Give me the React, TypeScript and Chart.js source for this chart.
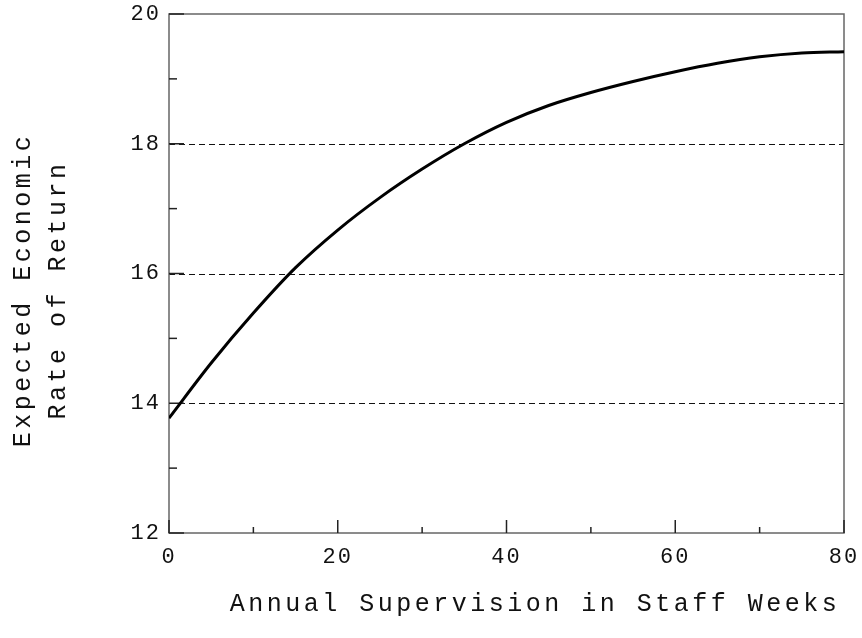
import React, { useEffect, useRef } from "react";
import { Chart, registerables } from "chart.js";

Chart.register(...registerables);

const xValues = [0, 5, 10, 15, 20, 25, 30, 35, 40, 45, 50, 55, 60, 65, 70, 75, 80];
const returnValues = [13.77, 14.62, 15.39, 16.09, 16.67, 17.17, 17.61, 18.0, 18.33, 18.59, 18.79, 18.96, 19.11, 19.24, 19.34, 19.4, 19.42];
const xTickValues = [0, 20, 40, 60, 80];
const yTickValues = [12, 14, 16, 18, 20];
const dashedValues = [14, 16, 18];
const xTitle = "Annual Supervision in Staff Weeks";
const yTitleLines = ["Expected Economic", "Rate of Return"];

const FONT = "'Liberation Mono', 'Courier New', monospace";

const framePlugin = {
  id: "framePlugin",
  beforeDraw(chart: any) {
    chart.ctx.letterSpacing = "2px";
  },
  beforeDatasetsDraw(chart: any) {
    const ctx = chart.ctx;
    const { left, right, top, bottom } = chart.chartArea;
    const xs = chart.scales.x;
    const ys = chart.scales.y;
    ctx.save();
    ctx.strokeStyle = "#111";
    ctx.lineWidth = 1;
    ctx.setLineDash([6, 4]);
    dashedValues.forEach((v) => {
      const y = Math.round(ys.getPixelForValue(v)) + 0.5;
      ctx.beginPath();
      ctx.moveTo(left, y);
      ctx.lineTo(right, y);
      ctx.stroke();
    });
    ctx.setLineDash([]);
    ctx.strokeStyle = "#666";
    ctx.lineWidth = 1.5;
    ctx.strokeRect(left, top, right - left, bottom - top);
    ctx.strokeStyle = "#222";
    ctx.lineWidth = 1.5;
    for (let v = ys.min; v <= ys.max; v += 1) {
      const y = ys.getPixelForValue(v);
      const len = v % 2 === 0 ? 15 : 8;
      ctx.beginPath();
      ctx.moveTo(left, y);
      ctx.lineTo(left + len, y);
      ctx.stroke();
    }
    for (let v = xs.min; v <= xs.max; v += 10) {
      const x = xs.getPixelForValue(v);
      const len = v % 20 === 0 ? 13 : 6;
      ctx.beginPath();
      ctx.moveTo(x, bottom);
      ctx.lineTo(x, bottom - len);
      ctx.stroke();
    }
    ctx.restore();
  },
  afterDraw(chart: any) {
    const ctx = chart.ctx;
    ctx.save();
    ctx.fillStyle = "#111";
    ctx.font = `25px ${FONT}`;
    ctx.letterSpacing = "3.5px";
    ctx.textAlign = "center";
    ctx.textBaseline = "middle";
    ctx.fillText(xTitle, 535, 604);
    ctx.translate(0, 290);
    ctx.rotate(-Math.PI / 2);
    ctx.fillText(yTitleLines[0], 0, 23);
    ctx.fillText(yTitleLines[1], 0, 58);
    ctx.restore();
  },
};

export default function App() {
  const ref = useRef<HTMLCanvasElement>(null);
  useEffect(() => {
    document.body.style.margin = "0";
    const canvas = ref.current!;
    const chart = new Chart(canvas, {
      type: "line",
      data: {
        datasets: [
          {
            data: xValues.map((x, i) => ({ x, y: returnValues[i] })),
            borderColor: "#000",
            borderWidth: 3,
            pointRadius: 0,
            cubicInterpolationMode: "monotone",
            fill: false,
          },
        ],
      },
      options: {
        responsive: false,
        animation: false,
        layout: { padding: { left: 0, top: 14, right: 18, bottom: 0 } },
        plugins: { legend: { display: false }, tooltip: { enabled: false } },
        scales: {
          x: {
            type: "linear",
            min: 0,
            max: 80,
            afterFit(scale: any) {
              scale.height = 105;
              scale.paddingLeft = 0;
              scale.paddingRight = 0;
            },
            afterBuildTicks(scale: any) {
              scale.ticks = xTickValues.map((v) => ({ value: v }));
            },
            grid: { display: false, drawTicks: false },
            border: { display: false },
            ticks: {
              color: "#111",
              padding: 11,
              font: { family: FONT, size: 22 },
              maxRotation: 0,
              autoSkip: false,
            },
          },
          y: {
            type: "linear",
            min: 12,
            max: 20,
            afterFit(scale: any) {
              scale.width = 169;
              scale.paddingTop = 0;
              scale.paddingBottom = 0;
            },
            afterBuildTicks(scale: any) {
              scale.ticks = yTickValues.map((v) => ({ value: v }));
            },
            grid: { display: false, drawTicks: false },
            border: { display: false },
            ticks: {
              color: "#111",
              padding: 8,
              font: { family: FONT, size: 22 },
              autoSkip: false,
            },
          },
        },
      },
      plugins: [framePlugin],
    } as any);
    return () => chart.destroy();
  }, []);
  return <canvas ref={ref} width={862} height={638} style={{ display: "block" }} />;
}
